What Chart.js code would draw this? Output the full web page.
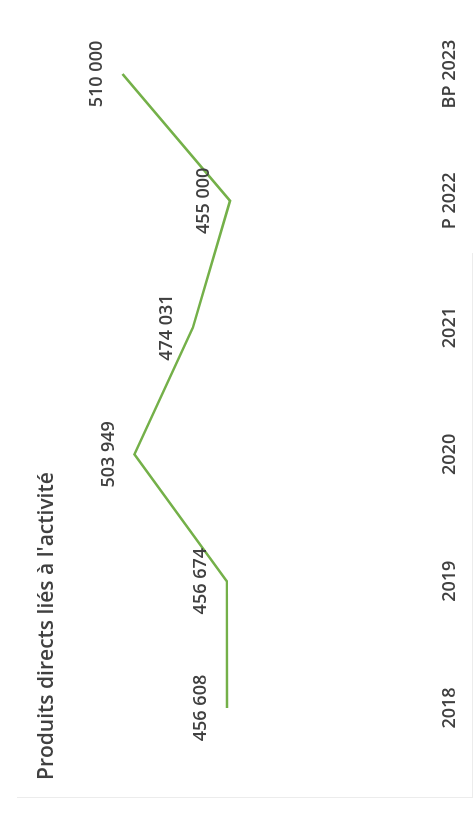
<!DOCTYPE html>
<html lang="fr">
<head>
  <meta charset="UTF-8">
  <title>Produits directs liés à l'activité</title>
  <script src="https://cdn.jsdelivr.net/npm/chart.js"></script>
  <style>
    html, body { margin: 0; padding: 0; background: #fff; overflow: hidden; }
    body { width: 475px; height: 813px; position: relative; }
    /* the chart is laid out landscape, then turned a quarter turn to the left */
    .sheet {
      position: absolute; left: 0; top: 813px;
      width: 813px; height: 475px;
      transform-origin: 0 0; transform: rotate(-90deg);
    }
    .sheet canvas { position: absolute; left: 0; top: 0; }
    .title {
      position: absolute; left: 33px; top: 35px;
      font: 600 21px "Open Sans", sans-serif; line-height: 1;
      color: #404040; white-space: nowrap;
    }
    .frame-left {
      position: absolute; left: 15px; top: 17px; width: 0; height: 455px;
      border-left: 1px solid #ececec;
    }
    .frame-bottom {
      position: absolute; left: 15px; top: 472px; width: 545px; height: 0;
      border-top: 1px solid #ececec;
    }
  </style>
</head>
<body>
  <div class="sheet">
    <div class="frame-left"></div>
    <div class="frame-bottom"></div>
    <canvas id="chart" width="813" height="475"></canvas>
    <div class="title">Produits directs liés à l'activité</div>
  </div>

  <script>
    const years  = ['2018', '2019', '2020', '2021', 'P 2022', 'BP 2023'];
    const values = [456608, 456674, 503949, 474031, 455000, 510000];

    const textColor = '#404040';
    const fmt = v => String(v).replace(/\B(?=(\d{3})+(?!\d))/g, ' ');

    // value labels above each point
    const pointLabels = {
      id: 'pointLabels',
      afterDatasetsDraw(chart) {
        const ctx = chart.ctx;
        const meta = chart.getDatasetMeta(0);
        ctx.save();
        ctx.font = '600 18px "Open Sans", sans-serif';
        ctx.fillStyle = textColor;
        ctx.textAlign = 'center';
        ctx.textBaseline = 'middle';
        meta.data.forEach((pt, i) => {
          ctx.fillText(fmt(values[i]), pt.x, pt.y - 26);
        });
        ctx.restore();
      }
    };

    new Chart(document.getElementById('chart'), {
      type: 'line',
      data: {
        labels: years,
        datasets: [{
          data: values,
          borderColor: '#74b049',
          borderWidth: 2.5,
          pointRadius: 0,
          tension: 0,
          fill: false
        }]
      },
      options: {
        responsive: false,
        animation: false,
        layout: { padding: { left: 41.6, right: 10.6, top: 103, bottom: 14 } },
        plugins: { legend: { display: false }, tooltip: { enabled: false } },
        scales: {
          x: {
            offset: true,
            grid: { display: false },
            border: { display: false },
            ticks: {
              color: textColor,
              padding: 0,
              maxRotation: 0,
              font: { family: 'Open Sans', size: 18, weight: '600' }
            }
          },
          y: {
            display: false,
            min: 352000,
            max: 520000
          }
        }
      },
      plugins: [pointLabels]
    });
  </script>
</body>
</html>
